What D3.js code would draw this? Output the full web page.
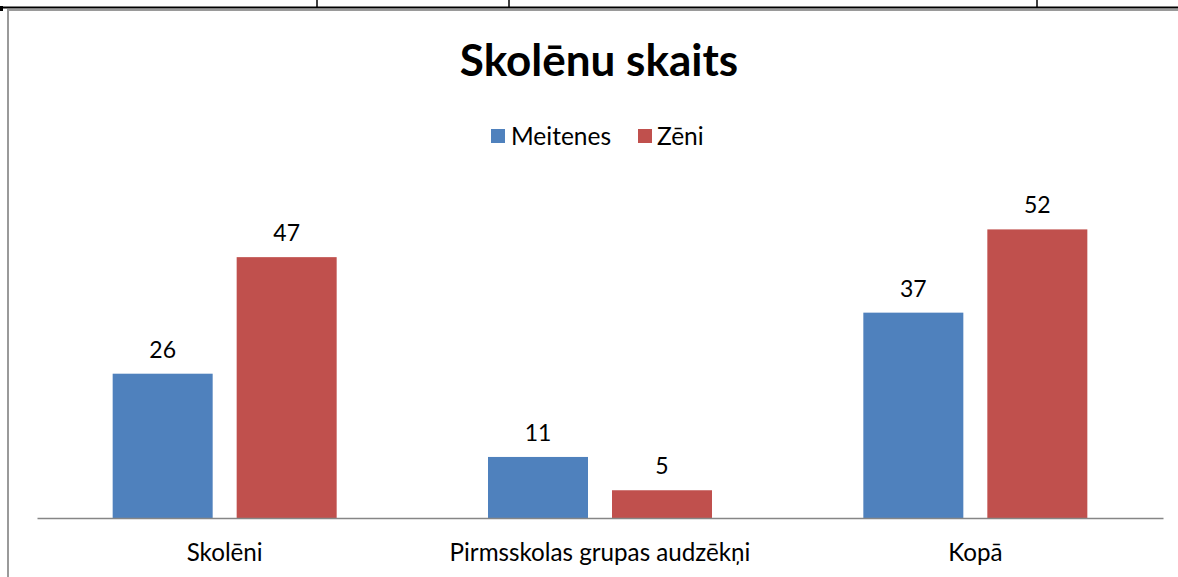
<!DOCTYPE html>
<html><head><meta charset="utf-8">
<script src="https://cdn.jsdelivr.net/npm/d3@7"></script>
<style>body{margin:0;background:#fff;} svg{display:block;}</style>
</head><body>
<svg id="c" width="1178" height="577"></svg>
<script>
const categories = ["Skolēni", "Pirmsskolas grupas audzēkņi", "Kopā"];
const seriesNames = ["Meitenes", "Zēni"];
const meitenes = [26, 11, 37];
const zeni = [47, 5, 52];
const yTicks = [0, 10, 20, 30, 40, 50, 60];
const colors = ["#4F81BD", "#C0504D"];
const title = "Skolēnu skaits";

const svg = d3.select("#c");
const font = "Lato, 'Open Sans', sans-serif";

// table border lines at top
svg.append("line").attr("x1",0).attr("x2",1178).attr("y1",7.5).attr("y2",7.5).attr("stroke","#000").attr("stroke-width",2);
[317, 509, 1037].forEach(x => svg.append("line").attr("x1",x).attr("x2",x).attr("y1",0).attr("y2",7).attr("stroke","#000").attr("stroke-width",1.5));
svg.append("rect").attr("x",0).attr("y",6).attr("width",3).attr("height",5).attr("fill","#000");
// chart frame (gray)
svg.append("line").attr("x1",8).attr("x2",1178).attr("y1",10).attr("y2",10).attr("stroke","#9a9a9a").attr("stroke-width",2);
svg.append("line").attr("x1",8).attr("x2",8).attr("y1",9).attr("y2",577).attr("stroke","#9a9a9a").attr("stroke-width",2);

const x0 = d3.scaleBand().domain(categories).range([37, 1163]).paddingInner(0).paddingOuter(0);
const x1 = d3.scaleBand().domain(seriesNames).range([-112, 112]).paddingInner(24 / 124).paddingOuter(0);
const y = d3.scaleLinear().domain([0, d3.max(yTicks)]).range([518, 185]);

const data = categories.map((c, i) => ({cat: c, vals: [meitenes[i], zeni[i]]}));

const g = svg.append("g");
data.forEach(d => {
  const cx = x0(d.cat) + x0.bandwidth() / 2;
  d.vals.forEach((v, j) => {
    const s = seriesNames[j];
    const bx = cx + x1(s);
    g.append("rect").attr("x", bx).attr("y", y(v)).attr("width", x1.bandwidth()).attr("height", y(0) - y(v)).attr("fill", colors[j]);
    g.append("text").attr("x", bx + x1.bandwidth() / 2).attr("y", y(v) - 16)
      .attr("text-anchor", "middle").attr("font-family", font).attr("font-size", 23).attr("fill", "#000").text(v);
  });
});

// x axis
const xAxis = d3.axisBottom(x0).tickSize(0).tickPadding(0);
const ax = svg.append("g").attr("transform", "translate(0,518)").call(xAxis);
ax.select(".domain").attr("stroke", "#868686").attr("stroke-width", 1.3);
ax.selectAll("text").attr("font-family", font).attr("font-size", 24.2).attr("fill", "#000").attr("dy", 0).attr("y", 43);

// title
svg.append("text").attr("x", 599).attr("y", 76).attr("text-anchor", "middle").attr("font-family", font)
  .attr("font-weight", "bold").attr("font-size", 44).attr("fill", "#000").text(title);

// legend
const leg = svg.append("g");
const legItems = [{x: 491, tx: 511}, {x: 638, tx: 657}];
seriesNames.forEach((s, j) => {
  leg.append("rect").attr("x", legItems[j].x).attr("y", 129).attr("width", 14).attr("height", 14).attr("fill", colors[j]);
  leg.append("text").attr("x", legItems[j].tx).attr("y", 145).attr("font-family", font).attr("font-size", 24.5).attr("fill", "#000").text(s);
});
</script>
</body></html>
